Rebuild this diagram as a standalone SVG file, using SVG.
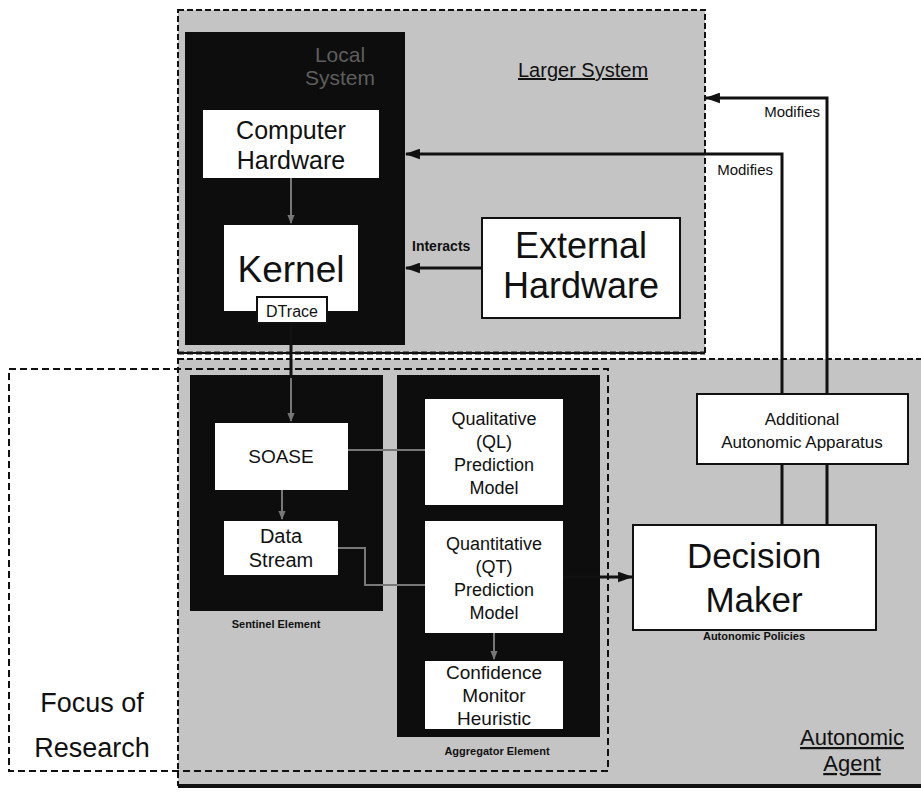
<svg xmlns="http://www.w3.org/2000/svg" width="921" height="794" viewBox="0 0 921 794">
  <style>
    text { font-family: "Liberation Sans", Arial, sans-serif; fill: #111; }
    .zone { fill: #c4c4c4; stroke: #111; stroke-width: 2; stroke-dasharray: 6 3; }
    .dark { fill: #0d0d0d; }
    .box { fill: #fff; stroke: #111; stroke-width: 2; }
    .wbox { fill: #fff; }
    .wire { fill: none; stroke: #111; stroke-width: 3; }
    .faint { fill: none; stroke: #777; stroke-width: 2; }
    .mid { text-anchor: middle; }
    .small { font-size: 11px; font-weight: bold; text-anchor: middle; }
    .title { text-decoration: underline; }
  </style>
  <defs>
    <marker id="head" viewBox="0 0 14 10" refX="13" refY="5" markerWidth="15" markerHeight="11" markerUnits="userSpaceOnUse" orient="auto">
      <path d="M0,0 L14,5 L0,10 z" fill="#111"/>
    </marker>
    <marker id="headGray" viewBox="0 0 10 8" refX="9" refY="4" markerWidth="9" markerHeight="8" markerUnits="userSpaceOnUse" orient="auto">
      <path d="M0,0 L10,4 L0,8 z" fill="#777"/>
    </marker>
  </defs>

  <rect width="921" height="794" fill="#fff"/>

  <!-- Larger System boundary -->
  <g id="larger-system">
    <rect class="zone" x="178" y="10" width="527" height="343"/>
    <line x1="178" y1="353" x2="705" y2="353" stroke="#111" stroke-width="3" stroke-dasharray="6 3"/>
    <text class="title" x="518" y="77" font-size="20">Larger System</text>
  </g>

  <!-- Autonomic Agent boundary -->
  <g id="autonomic-agent">
    <rect class="zone" x="178" y="359" width="760" height="426"/>
    <line x1="178" y1="786" x2="921" y2="786" stroke="#111" stroke-width="4"/>
    <text class="title mid" x="852" y="745" font-size="22">Autonomic</text>
    <text class="title mid" x="852" y="771" font-size="22">Agent</text>
  </g>

  <!-- Focus of Research boundary -->
  <g id="focus-of-research">
    <rect x="9" y="369" width="599" height="402" fill="none" stroke="#111" stroke-width="2" stroke-dasharray="7 4"/>
    <text class="mid" x="92" y="712" font-size="27">Focus of</text>
    <text class="mid" x="92" y="757" font-size="27">Research</text>
  </g>

  <!-- Local System container -->
  <g id="local-system">
    <rect class="dark" x="185" y="32" width="220" height="313"/>
    <text class="mid" x="340" y="62" font-size="21" style="fill:#5e5e5e">Local</text>
    <text class="mid" x="340" y="85" font-size="21" style="fill:#5e5e5e">System</text>
  </g>

  <g id="computer-hardware">
    <rect class="wbox" x="203" y="110" width="176" height="68"/>
    <text class="mid" x="291" y="139" font-size="25">Computer</text>
    <text class="mid" x="291" y="169" font-size="25">Hardware</text>
  </g>

  <g id="kernel">
    <rect class="wbox" x="224" y="225" width="134" height="86"/>
    <text class="mid" x="291" y="282" font-size="37">Kernel</text>
  </g>

  <g id="dtrace">
    <rect class="box" x="257" y="297" width="70" height="26"/>
    <text class="mid" x="292" y="317" font-size="16">DTrace</text>
  </g>

  <g id="external-hardware">
    <rect class="box" x="482" y="218" width="198" height="100"/>
    <text class="mid" x="581" y="258" font-size="36">External</text>
    <text class="mid" x="581" y="298" font-size="36">Hardware</text>
  </g>

  <!-- Sentinel Element -->
  <g id="sentinel-element">
    <rect class="dark" x="190" y="375" width="193" height="236"/>
    <text class="small" x="276" y="628">Sentinel Element</text>
  </g>

  <g id="soase">
    <rect class="wbox" x="215" y="423" width="133" height="67"/>
    <text class="mid" x="281" y="463" font-size="19">SOASE</text>
  </g>

  <g id="data-stream">
    <rect class="wbox" x="224" y="521" width="114" height="54"/>
    <text class="mid" x="281" y="543" font-size="20">Data</text>
    <text class="mid" x="281" y="567" font-size="20">Stream</text>
  </g>

  <!-- Aggregator Element -->
  <g id="aggregator-element">
    <rect class="dark" x="397" y="375" width="203" height="362"/>
    <text class="small" x="497" y="755">Aggregator Element</text>
  </g>

  <g id="qualitative-model">
    <rect class="wbox" x="425" y="399" width="138" height="106"/>
    <text class="mid" x="494" y="425" font-size="18">Qualitative</text>
    <text class="mid" x="494" y="448" font-size="18">(QL)</text>
    <text class="mid" x="494" y="471" font-size="18">Prediction</text>
    <text class="mid" x="494" y="494" font-size="18">Model</text>
  </g>

  <g id="quantitative-model">
    <rect class="wbox" x="425" y="521" width="138" height="112"/>
    <text class="mid" x="494" y="550" font-size="18">Quantitative</text>
    <text class="mid" x="494" y="573" font-size="18">(QT)</text>
    <text class="mid" x="494" y="596" font-size="18">Prediction</text>
    <text class="mid" x="494" y="619" font-size="18">Model</text>
  </g>

  <g id="confidence-monitor">
    <rect class="wbox" x="425" y="661" width="138" height="68"/>
    <text class="mid" x="494" y="679" font-size="19">Confidence</text>
    <text class="mid" x="494" y="702" font-size="19">Monitor</text>
    <text class="mid" x="494" y="725" font-size="19">Heuristic</text>
  </g>

  <g id="additional-apparatus">
    <rect class="box" x="697" y="394" width="211" height="70"/>
    <text class="mid" x="802" y="425" font-size="17">Additional</text>
    <text class="mid" x="802" y="448" font-size="17">Autonomic Apparatus</text>
  </g>

  <g id="decision-maker">
    <rect class="box" x="633" y="525" width="243" height="105"/>
    <text class="mid" x="754" y="568" font-size="35">Decision</text>
    <text class="mid" x="754" y="612" font-size="35">Maker</text>
    <text class="small" x="754" y="640">Autonomic Policies</text>
  </g>

  <!-- Connectors -->
  <g id="connectors">
    <line class="faint" x1="291" y1="178" x2="291" y2="223" marker-end="url(#headGray)"/>
    <line class="wire" x1="291" y1="323" x2="291" y2="378" stroke-width="2"/>
    <line class="faint" x1="291" y1="378" x2="291" y2="421" marker-end="url(#headGray)"/>
    <line class="faint" x1="282" y1="490" x2="282" y2="519" marker-end="url(#headGray)"/>
    <line class="faint" x1="348" y1="450" x2="425" y2="450"/>
    <path class="faint" d="M338,548 H365 V585 H425"/>
    <line class="faint" x1="494" y1="633" x2="494" y2="659" marker-end="url(#headGray)"/>
    <line class="wire" x1="563" y1="577" x2="632" y2="577" marker-end="url(#head)"/>
    <line class="wire" x1="482" y1="268" x2="406" y2="268" marker-end="url(#head)"/>
    <text x="412" y="251" font-size="14" font-weight="bold">Interacts</text>
    <path class="wire" d="M782,394 V154 H406" marker-end="url(#head)"/>
    <path class="wire" d="M827,394 V98 H706" marker-end="url(#head)"/>
    <line class="wire" x1="782" y1="464" x2="782" y2="525"/>
    <line class="wire" x1="827" y1="464" x2="827" y2="525"/>
    <text x="820" y="117" font-size="15" text-anchor="end">Modifies</text>
    <text x="773" y="175" font-size="15" text-anchor="end">Modifies</text>
  </g>
</svg>
